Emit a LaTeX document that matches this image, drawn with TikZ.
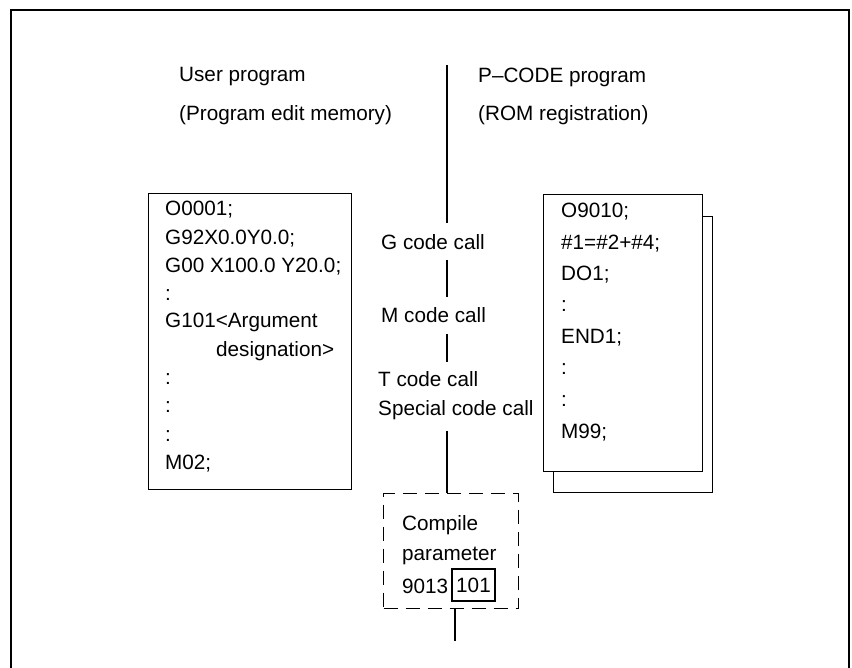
\documentclass[tikz,border=0pt]{standalone}
\usepackage{fontspec}
\setmainfont{Liberation Sans}
\begin{document}
\begin{tikzpicture}[x=1pt,y=-1pt,
  lbl/.style={anchor=west,inner sep=0pt,font=\fontsize{20.7}{24}\selectfont},
  thinline/.style={line width=1.2pt},
  listbox/.style={draw,line width=1.2pt,anchor=north west,inner sep=0pt},
  dashbox/.style={draw,line width=1.4pt,dash pattern=on 14pt off 8pt,anchor=north west,inner sep=0pt}]
\useasboundingbox (0,0) rectangle (852,668);
% outer frame, open at the bottom
\draw[line width=2.2pt] (11,668) -- (11,10) -- (849,10) -- (849,668);

% headings
\node[lbl] (up1) at (179,77) {User program};
\node[lbl] (up2) at (179,115) {(Program edit memory)};
\node[lbl] (pc1) at (478,77) {P–CODE program};
\node[lbl] (pc2) at (478,115) {(ROM registration)};

% user program box
\node[listbox,minimum width=203pt,minimum height=296pt] (ubox) at (148,193) {};
\foreach \t [count=\i from 0] in {O0001;,G92X0.0Y0.0;,G00 X100.0 Y20.0;,:,G101<Argument,\hspace*{51pt}designation>,:,:,:,M02;}
  \node[lbl] (u\i) at (165,210+28.2*\i) {\t};

% P-CODE program, stacked pages
\node[listbox,minimum width=159pt,minimum height=276pt] (pback) at (553,216) {};
\node[listbox,fill=white,minimum width=159pt,minimum height=277pt] (pfront) at (543,194) {};
\foreach \t [count=\i from 0] in {O9010;,\#1=\#2+\#4;,DO1;,:,END1;,:,:,M99;}
  \node[lbl] (p\i) at (561,212+31.5*\i) {\t};

% call types along the divider
\node[lbl] (gcall) at (381,242) {G code call};
\node[lbl] (mcall) at (381,315) {M code call};
\node[lbl] (tcall) at (378,379) {T code call};
\node[lbl] (scall) at (378,410) {Special code call};

% compile parameter box
\node[dashbox,minimum width=135pt,minimum height=115pt] (cbox) at (383,493) {};
\node[lbl] (c1) at (402,525) {Compile};
\node[lbl] (c2) at (402,556) {parameter};
\node[lbl] (c3) at (402,586) {9013};
\node[draw,thinline,minimum width=43pt,minimum height=32pt,inner sep=0pt,
      font=\fontsize{20.7}{24}\selectfont] (pval) at (473.5,585) {101};

% divider segments
\coordinate (dtop) at (447,65);
\coordinate (d1) at (447,223);
\coordinate (d2) at (447,260);
\coordinate (d3) at (447,297);
\coordinate (d4) at (447,334);
\coordinate (d5) at (447,362);
\coordinate (d6) at (447,431);
\coordinate (dend) at (455,641);
\draw[thinline] (dtop) -- (d1);
\draw[thinline] (d2) -- (d3);
\draw[thinline] (d4) -- (d5);
\draw[thinline] (d6) -- (d6 |- cbox.north);
\draw[thinline] (dend |- cbox.south) -- (dend);
\end{tikzpicture}
\end{document}
